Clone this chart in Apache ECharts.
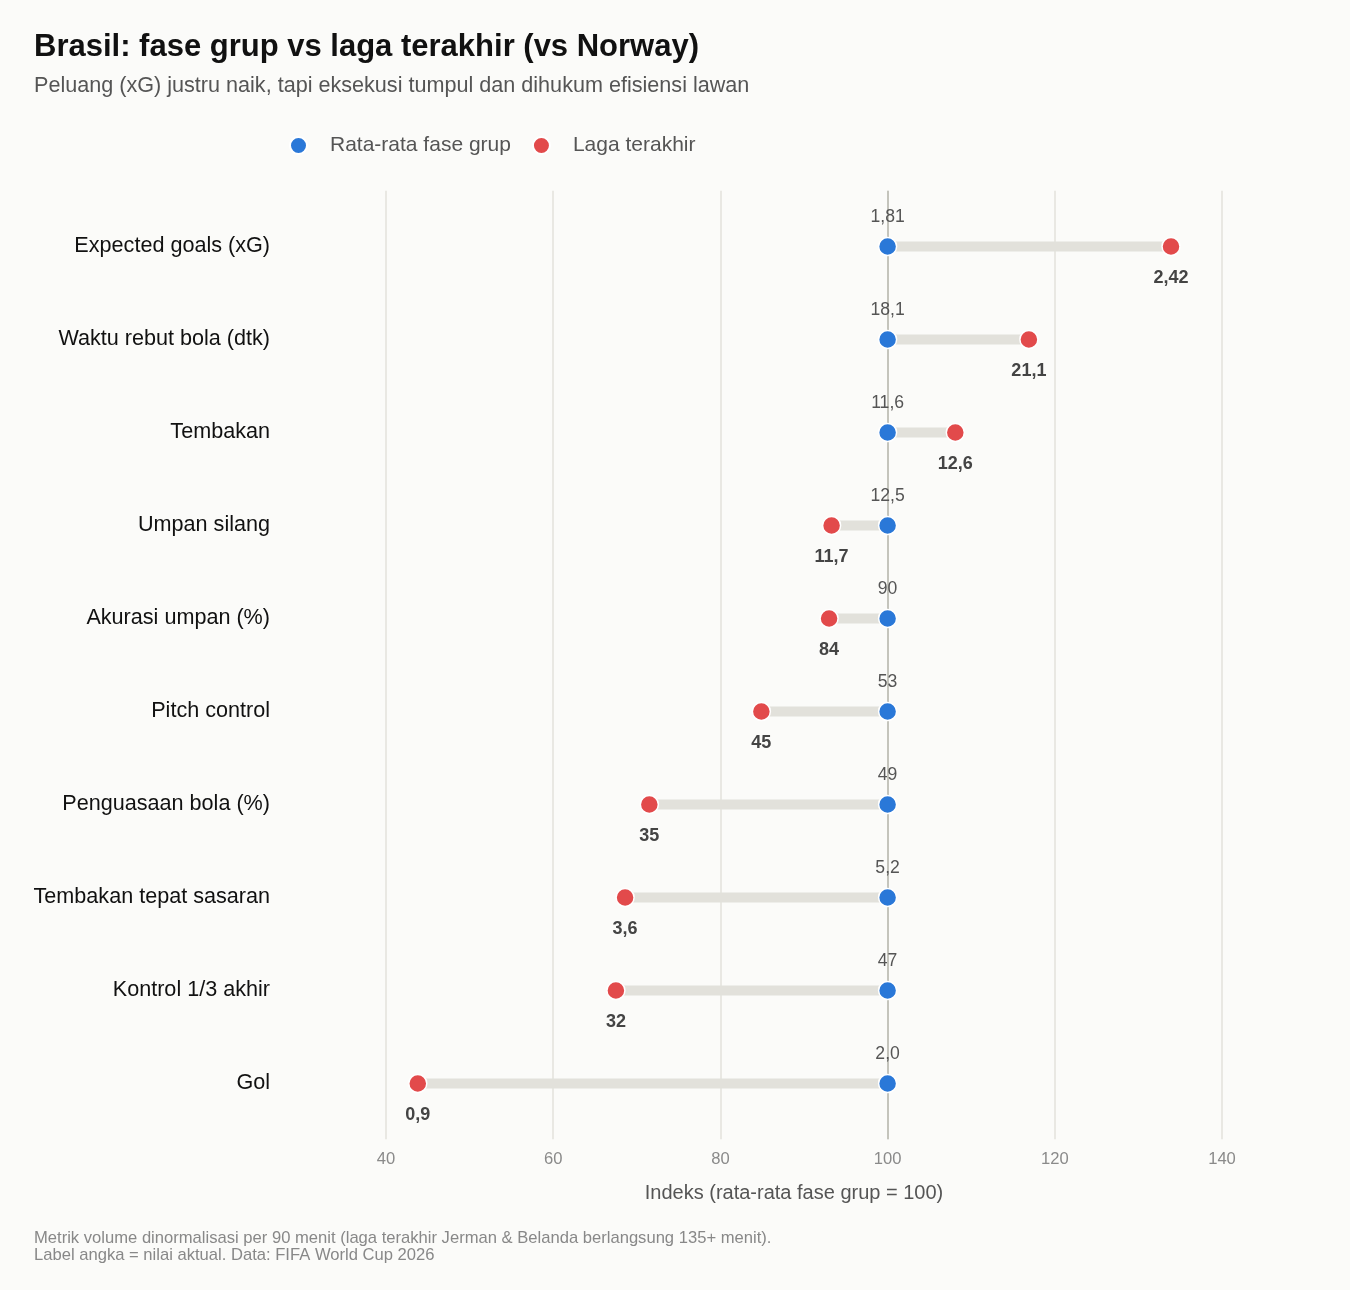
<!DOCTYPE html>
<html>
<head>
<meta charset="utf-8">
<title>Brasil: fase grup vs laga terakhir</title>
<script src="https://cdn.jsdelivr.net/npm/echarts@6/dist/echarts.min.js"></script>
<style>
    html, body { margin: 0; padding: 0; background: #fbfbf9; }
    #chart { width: 1350px; height: 1290px; }
</style>
</head>
<body>
<div id="chart"></div>
<script>
// kategori metrik (urutan atas ke bawah)
var categories = [
    'Expected goals (xG)',
    'Waktu rebut bola (dtk)',
    'Tembakan',
    'Umpan silang',
    'Akurasi umpan (%)',
    'Pitch control',
    'Penguasaan bola (%)',
    'Tembakan tepat sasaran',
    'Kontrol 1/3 akhir',
    'Gol'
];
// nilai aktual
var groupAvg = [1.81, 18.1, 11.6, 12.5, 90, 53, 49, 5.2, 47, 2.0];
var lastMatch = [2.42, 21.1, 12.6, 11.7, 84, 45, 35, 3.6, 32, 0.9];
var decimals = [2, 1, 1, 1, 0, 0, 0, 1, 0, 1];
// indeks (rata-rata fase grup = 100)
var groupIndex = [100, 100, 100, 100, 100, 100, 100, 100, 100, 100];
var lastIndex = [133.9, 116.9, 108.1, 93.3, 93.0, 84.9, 71.5, 68.6, 67.5, 43.8];

var blue = '#2a78d8';
var red = '#e24a4b';
var font = '"Liberation Sans", Arial, sans-serif';

function fmt(v, d) {
    return v.toFixed(d).replace('.', ',');
}

var rowIdx = categories.map(function (c, i) { return i; });

var chart = echarts.init(document.getElementById('chart'));

var option = {
    backgroundColor: '#fbfbf9',
    textStyle: { fontFamily: font },
    title: [{
        text: 'Brasil: fase grup vs laga terakhir (vs Norway)',
        left: 34,
        top: 32,
        padding: 0,
        textStyle: { fontSize: 31, fontWeight: 'bold', color: '#111', fontFamily: font }
    }, {
        text: 'Peluang (xG) justru naik, tapi eksekusi tumpul dan dihukum efisiensi lawan',
        left: 34,
        top: 75,
        padding: 0,
        textStyle: { fontSize: 21.6, fontWeight: 'normal', color: '#555', fontFamily: font }
    }, {
        text: 'Metrik volume dinormalisasi per 90 menit (laga terakhir Jerman & Belanda berlangsung 135+ menit).\nLabel angka = nilai aktual. Data: FIFA World Cup 2026',
        left: 34,
        top: 1230,
        padding: 0,
        textStyle: { fontSize: 16.6, fontWeight: 'normal', color: '#888', lineHeight: 17, fontFamily: font }
    }],
    legend: {
        left: 284,
        top: 130,
        itemWidth: 17,
        itemHeight: 17,
        itemGap: 21,
        textStyle: { fontSize: 21, color: '#555', fontFamily: font, padding: [0, 0, 0, 18] },
        data: ['Rata-rata fase grup', 'Laga terakhir']
    },
    graphic: [{
        type: 'text',
        x: 794,
        y: 1193,
        style: {
            text: 'Indeks (rata-rata fase grup = 100)',
            font: '20px ' + font,
            fill: '#555',
            textAlign: 'center',
            textVerticalAlign: 'middle'
        }
    }],
    grid: {
        left: 386,
        right: 128,
        top: 190.7,
        bottom: 150.7
    },
    xAxis: {
        type: 'value',
        min: 40,
        max: 140,
        interval: 20,
        axisLine: { show: false },
        axisTick: { show: false },
        splitLine: { show: true, lineStyle: { color: '#e3e2db', width: 1.5 } },
        axisLabel: { color: '#8a8a8a', fontSize: 16.6, margin: 12, fontFamily: font }
    },
    yAxis: {
        type: 'value',
        inverse: true,
        min: -0.6,
        max: 9.6,
        axisLine: { show: false },
        axisTick: { show: false },
        splitLine: { show: false },
        axisLabel: {
            customValues: rowIdx,
            color: '#111',
            fontSize: 21.6,
            margin: 116,
            fontFamily: font,
            formatter: function (v) { return categories[Math.round(v)] || ''; }
        }
    },
    series: [{
        // garis penghubung
        type: 'custom',
        name: 'segmen',
        silent: true,
        z: 2,
        encode: { x: [0, 1], y: 2 },
        data: rowIdx.map(function (i) { return [groupIndex[i], lastIndex[i], i]; }),
        renderItem: function (params, api) {
            var a = api.coord([api.value(0), api.value(2)]);
            var b = api.coord([api.value(1), api.value(2)]);
            return {
                type: 'line',
                shape: { x1: a[0], y1: a[1], x2: b[0], y2: b[1] },
                style: { stroke: '#e2e1db', lineWidth: 10 }
            };
        },
        markLine: {
            silent: true,
            z: 1,
            symbol: 'none',
            label: { show: false },
            lineStyle: { color: '#c4c4bc', width: 2, type: 'solid' },
            data: [{ xAxis: 100 }]
        }
    }, {
        name: 'Rata-rata fase grup',
        type: 'scatter',
        z: 4,
        symbol: 'circle',
        symbolSize: 18,
        itemStyle: { color: blue, borderColor: '#fff', borderWidth: 1.5, opacity: 1 },
        data: rowIdx.map(function (i) { return [groupIndex[i], i]; }),
        label: {
            show: true,
            position: 'inside',
            offset: [0, -29],
            color: '#555',
            fontSize: 17.6,
            fontFamily: font,
            formatter: function (p) { return fmt(groupAvg[p.dataIndex], decimals[p.dataIndex]); }
        }
    }, {
        name: 'Laga terakhir',
        type: 'scatter',
        z: 4,
        symbol: 'circle',
        symbolSize: 18,
        itemStyle: { color: red, borderColor: '#fff', borderWidth: 1.5, opacity: 1 },
        data: rowIdx.map(function (i) { return [lastIndex[i], i]; }),
        label: {
            show: true,
            position: 'inside',
            offset: [0, 32],
            color: '#444',
            fontSize: 18,
            fontWeight: 'bold',
            fontFamily: font,
            formatter: function (p) { return fmt(lastMatch[p.dataIndex], decimals[p.dataIndex]); }
        }
    }]
};

chart.setOption(option);
</script>
</body>
</html>
